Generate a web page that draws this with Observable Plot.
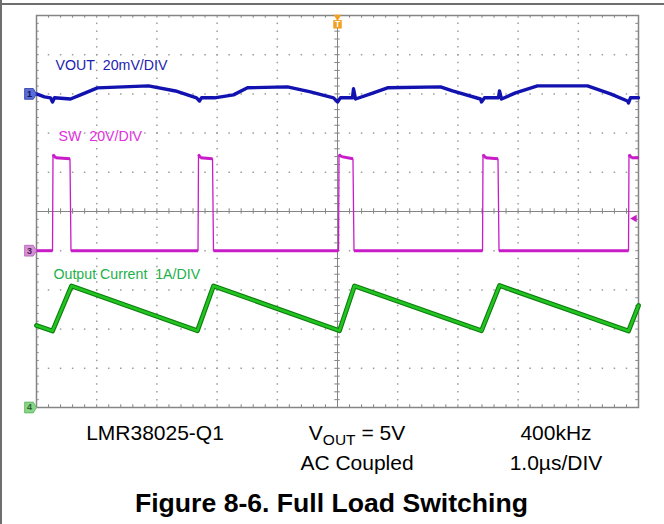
<!DOCTYPE html>
<html>
<head>
<meta charset="utf-8">
<script src="https://cdn.jsdelivr.net/npm/d3@7"></script>
<script src="https://cdn.jsdelivr.net/npm/@observablehq/plot@0.6"></script>
<style>
  body { margin: 0; background: #fff; }
  #wrap { position: relative; width: 664px; height: 524px; overflow: hidden; background: #fff;
          font-family: "Liberation Sans", Arial, sans-serif; }
  #wrap svg { position: absolute; left: 0; top: 0; }
  .frame-top { position: absolute; left: 0; top: 3px; width: 664px; height: 1.5px; background: #6e6e6e; }
  .frame-left { position: absolute; left: 0; top: 0; width: 1.5px; height: 524px; background: #6e6e6e; }
  .note { position: absolute; width: 220px; font-size: 21px; line-height: 21px; color: #000;
          text-align: center; white-space: nowrap; }
  .note sub { font-size: 15.5px; vertical-align: -5px; line-height: 0; }
  .cap { position: absolute; left: 0; width: 664px; font-size: 26.6px; line-height: 26px; font-weight: bold;
         color: #000; text-align: center; white-space: nowrap; }
</style>
</head>
<body>
<div id="wrap">
  <div class="frame-top"></div>
  <div class="frame-left"></div>
</div>
<script>
// ---------- data read from the scope shot ----------
// time axis: 1.0 µs/DIV, 10 divisions
const timePerDiv = 1.0;
const hDivs = 10, vDivs = 10;

// channel 1: VOUT, AC coupled, 20 mV/DIV (mV relative to channel reference)
const vTime = [0, 0.133, 0.233, 0.266, 0.299, 0.565, 0.731, 1.013, 1.860, 2.309,
               2.658, 2.708, 2.741, 2.957, 3.272, 3.505, 4.169, 4.551, 4.934, 5.000,
               5.050, 5.249, 5.266, 5.299, 5.548, 5.831, 6.711, 6.910, 7.375, 7.392,
               7.442, 7.674, 7.691, 7.724, 7.957, 8.322, 9.153, 9.535, 9.817, 9.834,
               9.867, 10];
const voutMv = [0, -1.5, -2.0, -4.1, -2.0, -2.6, -0.5, 3.1, 4.1, 1.5,
                -2.0, -3.6, -2.0, -2.0, -0.5, 3.1, 3.6, 1.0, -2.0, -4.1,
                -2.0, -2.0, 2.6, -2.6, 0, 3.1, 3.6, 1.5, -2.6, -4.1,
                -2.0, -2.0, 1.5, -2.6, 0.5, 4.1, 4.1, 0, -3.6, -4.6,
                -2.0, -2.0];

// channel 3: SW node, 20 V/DIV
const swTime = [0, 0.266, 0.274, 0.316, 0.556, 0.573, 2.683, 2.691, 2.724, 2.924,
                2.940, 5.017, 5.025, 5.066, 5.257, 5.274, 7.409, 7.417, 7.458, 7.666,
                7.683, 9.834, 9.842, 9.884, 10];
const swVolts = [0, 0, 49, 47.4, 46.9, 0, 0, 49, 47.4, 46.9,
                 0, 0, 49, 48, 46.9, 0, 0, 49, 47.4, 46.9,
                 0, 0, 49, 47.4, 47.4];

// channel 4: output (inductor) current, 1 A/DIV
const iTime = [0, 0.266, 0.581, 2.674, 2.940, 5.033, 5.282, 7.392, 7.691, 9.834, 10];
const iAmps = [2.09, 1.95, 3.10, 1.96, 3.10, 1.96, 3.10, 1.96, 3.11, 1.95, 2.60];

// channel settings
const chNames = ["1", "3", "4"];
const chOffsetDiv = [3, -1, -5];      // reference level, divisions from centre
const chPerDiv = [20, 20, 1];         // mV, V, A per division
const chLabels = ["VOUT\u00a0 20mV/DIV", "SW\u00a0 20V/DIV", "Output Current\u00a0 1A/DIV"];

// trigger
const trigTime = 5;       // µs (centre)
const trigLevelV = 16.4;  // V on channel 3

// notes under the screen
const noteRow1 = ["LMR38025-Q1", "V<sub>OUT</sub> = 5V", "400kHz"];
const noteRow2 = ["", "AC Coupled", "1.0µs/DIV"];
const caption = "Figure 8-6. Full Load Switching";

// ---------- styles ----------
const C = {
  vout: "#1212b0", voutLbl: "#1c22b0",
  sw: "#c81cc8", swLbl: "#e030e0",
  cur: "#17a817", curDark: "#0c7c0c", curLbl: "#22b04a",
  grid: "#9c9c9c", axis: "#858585", trig: "#f2a024"
};
const markerFill = ["#5a6cd6", "#d690d6", "#86d686"];
const markerStroke = ["#2a3aa8", "#b060b0", "#60b060"];
const markerText = ["#101050", "#502050", "#306030"];

// ---------- derived tables ----------
const vout = vTime.map((t, i) => ({t, y: chOffsetDiv[0] + voutMv[i] / chPerDiv[0]}));
const sw = swTime.map((t, i) => ({t, v: swVolts[i], y: chOffsetDiv[1] + swVolts[i] / chPerDiv[1]}));
const cur = iTime.map((t, i) => ({t, y: chOffsetDiv[2] + iAmps[i] / chPerDiv[2]}));
const swFlat = d3.pairs(sw).filter(([a, b]) => Math.abs(a.v - b.v) < 5);

const xMinor = d3.range(0, hDivs * 5 + 1).map(i => i / 5 * timePerDiv);
const yMinor = d3.range(0, vDivs * 5 + 1).map(i => -vDivs / 2 + i / 5);
const gridPts = [];
for (let k = 1; k < hDivs; k++) if (k !== hDivs / 2)
  for (const y of yMinor.slice(1, -1)) gridPts.push({x: k * timePerDiv, y});
for (let k = -vDivs / 2 + 1; k < vDivs / 2; k++) if (k !== 0)
  for (const x of xMinor.slice(1, -1)) gridPts.push({x, y: k});

const pointer = {
  draw(ctx, size) {
    const r = Math.sqrt(size / Math.PI);
    ctx.moveTo(-2.2 * r, -r);
    ctx.lineTo(-0.6 * r, -r);
    ctx.lineTo(0, 0);
    ctx.lineTo(-0.6 * r, r);
    ctx.lineTo(-2.2 * r, r);
    ctx.closePath();
  }
};
const chIdx = [0, 1, 2];
const xc = hDivs / 2 * timePerDiv, xmax = hDivs * timePerDiv, ymax = vDivs / 2;

const chart = Plot.plot({
  width: 664, height: 418,
  marginLeft: 36, marginRight: 26, marginTop: 15, marginBottom: 11,
  x: {domain: [0, xmax], axis: null},
  y: {domain: [-ymax, ymax], axis: null},
  style: {fontFamily: "'Liberation Sans', Arial, sans-serif", background: "#fff"},
  marks: [
    Plot.dot(gridPts, {x: "x", y: "y", symbol: "square", r: 0.85, fill: C.grid}),
    Plot.ruleX([xc], {stroke: C.axis, strokeWidth: 1}),
    Plot.ruleY([0], {stroke: C.axis, strokeWidth: 1}),
    Plot.ruleX(xMinor, {x: d => d, y1: -0.07, y2: 0.07, stroke: C.axis}),
    Plot.ruleY(yMinor, {y: d => d, x1: xc - 0.045, x2: xc + 0.045, stroke: C.axis}),
    Plot.ruleX(xMinor, {x: d => d, y1: ymax, y2: ymax - 0.07, stroke: C.axis}),
    Plot.ruleX(xMinor, {x: d => d, y1: -ymax, y2: -ymax + 0.07, stroke: C.axis}),
    Plot.ruleY(yMinor, {y: d => d, x1: 0, x2: 0.045, stroke: C.axis}),
    Plot.ruleY(yMinor, {y: d => d, x1: xmax, x2: xmax - 0.045, stroke: C.axis}),
    Plot.frame({stroke: C.axis, strokeWidth: 1.5}),

    // traces
    Plot.line(vout, {x: "t", y: "y", stroke: C.vout, strokeWidth: 3.4, strokeLinejoin: "round"}),
    Plot.line(sw, {x: "t", y: "y", stroke: C.sw, strokeWidth: 1.3}),
    Plot.link(swFlat, {x1: d => d[0].t, y1: d => d[0].y, x2: d => d[1].t, y2: d => d[1].y,
                       stroke: C.sw, strokeWidth: 3}),
    Plot.line(cur, {x: "t", y: "y", stroke: C.curDark, strokeWidth: 4.8, strokeLinejoin: "round"}),
    Plot.line(cur, {x: "t", y: "y", stroke: "#22c422", strokeWidth: 2.6, strokeLinejoin: "round"}),

    // channel labels
    Plot.text([chLabels[0]], {frameAnchor: "top-left", dx: 19, dy: 49.5, text: d => d,
      textAnchor: "start", lineAnchor: "middle", fontSize: 14.2, fill: C.voutLbl}),
    Plot.text([chLabels[1]], {frameAnchor: "top-left", dx: 22, dy: 121.3, text: d => d,
      textAnchor: "start", lineAnchor: "middle", fontSize: 14.2, fill: C.swLbl}),
    Plot.text([chLabels[2]], {frameAnchor: "top-left", dx: 17, dy: 259, text: d => d,
      textAnchor: "start", lineAnchor: "middle", fontSize: 14.2, fill: C.curLbl}),

    // channel reference markers
    Plot.dot(chIdx, {x: () => 0, y: i => chOffsetDiv[i], symbol: pointer, r: 5.4,
      fill: i => markerFill[i], stroke: i => markerStroke[i], strokeWidth: 0.8}),
    Plot.text(chIdx, {x: () => 0, y: i => chOffsetDiv[i], text: i => chNames[i], dx: -7,
      fontSize: 9, fontWeight: "bold", fill: i => markerText[i]}),

    // trigger position and level
    Plot.dot([trigTime], {x: d => d, y: () => ymax, dy: 1.5, symbol: "triangle", rotate: 180,
      r: 2.8, fill: C.trig}),
    Plot.dot([trigTime], {x: d => d, y: () => ymax, dy: 8.8, symbol: "square", r: 4.8, fill: C.trig}),
    Plot.text([trigTime], {x: d => d, y: () => ymax, dy: 8.8, text: () => "T", fill: "#fff",
      fontSize: 8.5, fontWeight: "bold"}),
    Plot.dot([trigLevelV], {x: () => xmax, dx: -4, y: v => chOffsetDiv[1] + v / chPerDiv[1],
      symbol: "triangle", rotate: -90, r: 2.8, fill: C.sw})
  ]
});
const wrap = document.getElementById("wrap");
wrap.insertBefore(chart, wrap.firstChild);

// notes below the screen
const colCenters = [155, 357, 556];
function addNote(html, cx, top) {
  const d = document.createElement("div");
  d.className = "note";
  d.style.left = (cx - 110) + "px";
  d.style.top = top + "px";
  d.innerHTML = html;
  wrap.appendChild(d);
}
noteRow1.forEach((s, i) => addNote(s, colCenters[i], 421.5));
noteRow2.forEach((s, i) => s && addNote(s, colCenters[i], 452));
const cap = document.createElement("div");
cap.className = "cap";
cap.style.top = "490px";
cap.style.left = "-0.5px";
cap.textContent = caption;
wrap.appendChild(cap);
</script>
</body>
</html>
